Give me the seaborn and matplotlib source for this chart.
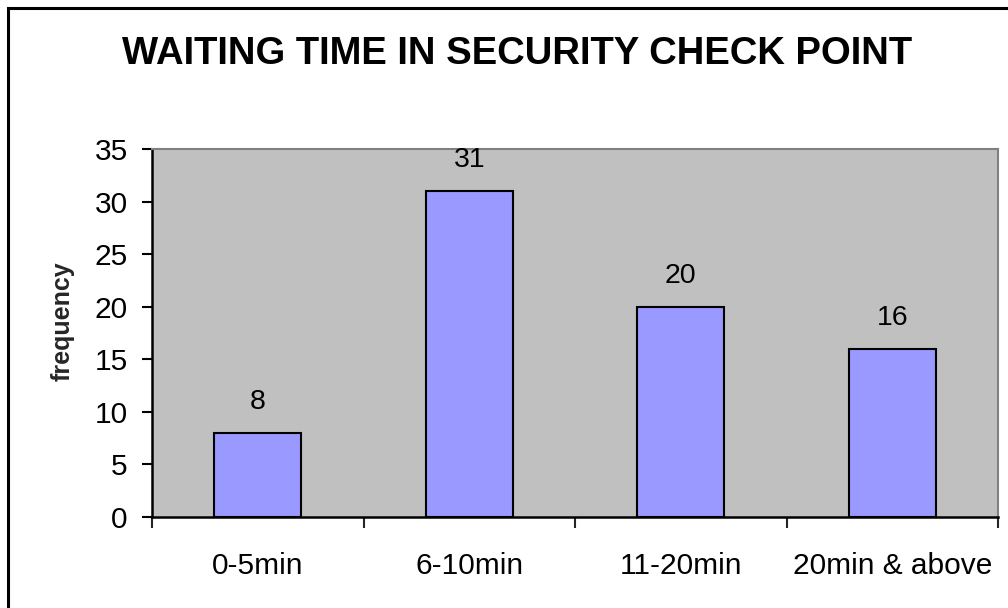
import matplotlib
matplotlib.use("Agg")
import matplotlib.pyplot as plt
import seaborn as sns
import pandas as pd
from matplotlib.patches import Rectangle

categories = ["0-5min", "6-10min", "11-20min", "20min & above"]
frequency = [8, 31, 20, 16]
title = "WAITING TIME IN SECURITY CHECK POINT"
y_label = "frequency"

sns.set_theme(style="white")
plt.rcParams["font.family"] = ["Liberation Sans", "DejaVu Sans"]

df = pd.DataFrame({"category": categories, "frequency": frequency})

fig = plt.figure(figsize=(10.08, 6.08), dpi=100)
fig.patch.set_facecolor("white")
ax = fig.add_axes([152/1008, 1 - 517/608, (998-152)/1008, (517-149)/608])
ax.set_facecolor("#C0C0C0")

sns.barplot(data=df, x="category", y="frequency", ax=ax, color="#9999FF",
            saturation=1, width=0.41, edgecolor="black", linewidth=1.5)

ax.set_ylim(0, 35)
ax.set_xlim(-0.5, len(categories) - 0.5)
ax.set_yticks(range(0, 36, 5))
ax.tick_params(axis="y", labelsize=21.5, length=7.5, width=1.5, direction="out",
               left=True, pad=10, colors="black")
ax.set_xticks([i - 0.5 for i in range(len(categories) + 1)], minor=False)
ax.set_xticklabels([])
ax.set_xticks(range(len(categories)), minor=True)
ax.set_xticklabels(categories, minor=True)
ax.tick_params(axis="x", which="major", length=8, width=1.5, direction="out", bottom=True)
ax.tick_params(axis="x", which="minor", length=0, labelsize=21.5, pad=25, colors="black")

ax.set_xlabel("")
ax.set_ylabel(y_label, fontsize=18, fontweight="bold")
ax.yaxis.set_label_coords(-77/846, (517-321)/368)

for s in ["left", "bottom"]:
    ax.spines[s].set_color("black")
    ax.spines[s].set_linewidth(1.8)
for s in ["top", "right"]:
    ax.spines[s].set_color("#808080")
    ax.spines[s].set_linewidth(1.5)

for p, v in zip(ax.patches, frequency):
    ax.annotate(str(v), (p.get_x() + p.get_width() / 2, p.get_height()),
                xytext=(0, 13), textcoords="offset points",
                ha="center", va="bottom", fontsize=20.5, color="black")

fig.text(517/1008, 1 - 54/608, title, ha="center", va="center",
         fontsize=27.5, fontweight="bold", color="black")

fig.patches.append(Rectangle((8/1008, -0.1), 1.2, 1 - 8/608 + 0.1,
                             transform=fig.transFigure, fill=False,
                             edgecolor="black", linewidth=2.2))

fig.savefig("out.png", dpi=100)
